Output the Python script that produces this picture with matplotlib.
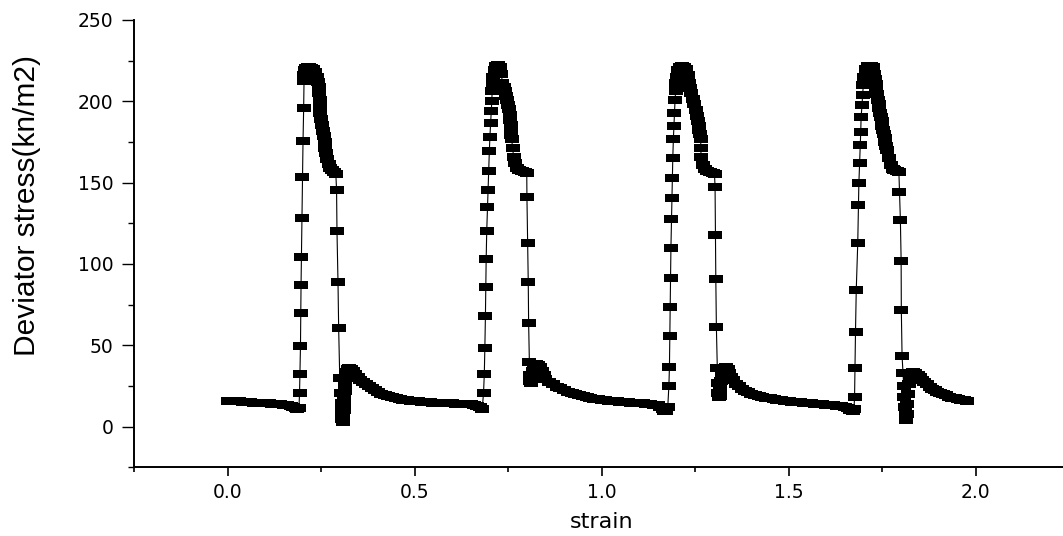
import numpy as np
import matplotlib
matplotlib.use("Agg")
import matplotlib.pyplot as plt
from matplotlib.ticker import MultipleLocator, FormatStrFormatter

# ---------------- data ----------------
strain_flat0 = [0.000, 0.010, 0.020, 0.030, 0.040, 0.050, 0.060, 0.070, 0.080, 0.090,
                0.100, 0.110, 0.120, 0.130, 0.140, 0.150, 0.160, 0.170, 0.176, 0.182,
                0.187, 0.191]
stress_flat0 = [16.0, 15.9, 15.7, 15.5, 15.3, 15.1, 14.9, 14.7, 14.6, 14.5,
                14.4, 14.3, 14.2, 14.0, 13.8, 13.6, 13.3, 13.0, 12.2, 11.4,
                10.8, 11.5]

strain_c1 = [0.1925, 0.1935, 0.1950, 0.1957, 0.1965, 0.1975, 0.1990, 0.2002, 0.2018, 0.2035, 0.2045,
             0.2055, 0.207, 0.210, 0.214, 0.219, 0.224, 0.229, 0.234, 0.238, 0.241, 0.2435, 0.2455,
             0.247, 0.2475, 0.248, 0.250, 0.2525, 0.255, 0.2575, 0.260, 0.2615, 0.263, 0.266, 0.270,
             0.275, 0.280, 0.285, 0.2895,
             0.2915, 0.2926, 0.2953, 0.2971, 0.300,
             0.303, 0.305, 0.306, 0.307, 0.308, 0.3095, 0.3105, 0.3115, 0.3125, 0.3135, 0.3145,
             0.316, 0.318, 0.321, 0.325, 0.330, 0.335, 0.341, 0.348, 0.355, 0.362, 0.370, 0.378,
             0.386, 0.394, 0.402, 0.410, 0.420, 0.430, 0.440, 0.450, 0.460, 0.470, 0.480, 0.490,
             0.500, 0.510, 0.520, 0.530, 0.540, 0.550, 0.560, 0.570, 0.580, 0.590, 0.600, 0.610,
             0.620, 0.630, 0.640, 0.650, 0.660, 0.668, 0.675, 0.681]
stress_c1 = [21.0, 32.4, 49.4, 69.7, 87.0, 104.0, 128.4, 153.2, 175.4, 195.6, 212.5,
             216.0, 219.0, 220.5, 221.0, 221.0, 220.5, 219.5, 218.0, 215.0, 212.0, 208.5, 205.0,
             201.0, 197.0, 193.0, 189.0, 185.5, 182.0, 178.5, 175.0, 171.5, 168.0, 164.5, 161.5,
             159.0, 157.5, 156.5, 155.5,
             145.4, 120.2, 89.0, 60.4, 30.0,
             20.5, 14.5, 9.5, 5.0, 3.0, 6.0, 10.0, 14.0, 18.0, 22.0, 26.0,
             30.0, 33.5, 35.5, 36.3, 35.5, 34.0, 32.5, 30.5, 29.0, 27.5, 26.0, 24.8,
             23.5, 22.3, 21.3, 20.4, 19.5, 18.8, 18.1, 17.5, 17.0, 16.6, 16.3, 16.0,
             15.8, 15.5, 15.3, 15.1, 14.9, 14.8, 14.7, 14.6, 14.5, 14.4, 14.3, 14.2,
             14.1, 14.0, 13.9, 13.7, 13.4, 12.8, 12.0, 11.0]

strain_c2 = [0.6845, 0.6865, 0.6880, 0.6895, 0.6905, 0.6915, 0.6930, 0.6950, 0.6965, 0.6980,
             0.7000, 0.7015, 0.7035, 0.7055,
             0.7065, 0.7075, 0.709, 0.711, 0.714, 0.719, 0.724, 0.728, 0.732, 0.735, 0.738,
             0.741, 0.744, 0.748, 0.750, 0.752, 0.754, 0.7555, 0.757, 0.758, 0.759, 0.760, 0.762,
             0.765, 0.769, 0.774, 0.780, 0.787, 0.794, 0.800,
             0.8005, 0.8025, 0.804, 0.805, 0.807,
             0.808, 0.810, 0.812, 0.814, 0.817, 0.820, 0.825, 0.830, 0.835, 0.840, 0.845, 0.850,
             0.860, 0.870, 0.880, 0.890, 0.900, 0.910, 0.920, 0.930, 0.940, 0.950, 0.960, 0.970,
             0.980, 0.990, 1.000, 1.010, 1.020, 1.030, 1.040, 1.050, 1.060, 1.070, 1.080, 1.090,
             1.100, 1.110, 1.120, 1.130, 1.140, 1.150, 1.157, 1.163, 1.168, 1.172, 1.177]
stress_c2 = [21.0, 32.4, 48.5, 68.2, 86.0, 103.0, 120.2, 134.7, 145.4, 157.3,
             169.5, 178.1, 186.4, 194.1,
             200.0, 206.0, 211.0, 215.0, 219.0, 221.5, 222.0, 221.0, 217.0, 211.0, 208.5,
             206.0, 203.5, 200.5, 197.5, 195.0, 191.5, 188.5, 185.5, 182.3, 179.5, 176.5, 171.0,
             166.0, 162.0, 159.0, 157.5, 157.0, 156.5, 156.0,
             141.0, 113.0, 89.0, 64.0, 40.0,
             32.0, 28.0, 27.0, 30.0, 34.0, 37.0, 38.5, 38.0, 36.5, 34.0, 31.5, 29.5,
             27.5, 26.0, 24.7, 23.5, 22.5, 21.5, 20.7, 20.0, 19.3, 18.7, 18.2, 17.7,
             17.3, 17.0, 16.7, 16.4, 16.1, 15.8, 15.6, 15.4, 15.2, 15.0, 14.8, 14.6,
             14.4, 14.3, 14.1, 13.9, 13.6, 13.1, 12.2, 10.8, 9.6, 9.5, 12.0]

strain_c3 = [1.1800, 1.1815, 1.1825, 1.1835, 1.1845, 1.1855, 1.1870, 1.1880, 1.1890, 1.1905,
             1.1920, 1.1935, 1.1950, 1.1965,
             1.198, 1.1995, 1.201, 1.204, 1.209, 1.215, 1.221, 1.226, 1.230, 1.2335, 1.237,
             1.240, 1.244, 1.248, 1.252, 1.2555, 1.258, 1.260, 1.2615, 1.263, 1.265, 1.2655,
             1.266, 1.270, 1.276, 1.283, 1.290, 1.297, 1.302,
             1.3035, 1.3045, 1.3055, 1.307,
             1.3095, 1.311, 1.3125, 1.314, 1.316, 1.318, 1.320, 1.323, 1.327, 1.332, 1.337,
             1.342, 1.347, 1.352, 1.360, 1.368, 1.376, 1.384, 1.392, 1.400, 1.410, 1.420,
             1.430, 1.440, 1.450, 1.460, 1.470, 1.480, 1.490, 1.500, 1.510, 1.520, 1.530,
             1.540, 1.550, 1.560, 1.570, 1.580, 1.590, 1.600, 1.610, 1.620, 1.630, 1.640,
             1.650, 1.658, 1.665, 1.671, 1.675]
stress_c3 = [25.0, 36.5, 56.0, 73.7, 91.2, 110.0, 127.4, 140.7, 153.0, 165.3,
             176.5, 184.7, 192.5, 200.7,
             206.0, 211.0, 215.0, 219.0, 221.0, 221.5, 221.3, 219.5, 216.0, 211.0, 208.0,
             205.0, 201.5, 198.0, 194.5, 191.0, 188.0, 185.0, 182.5, 180.0, 177.0, 171.0,
             166.0, 161.0, 158.5, 157.0, 156.5, 156.0, 155.0,
             147.4, 118.0, 91.0, 61.4,
             36.0, 27.0, 21.0, 18.0, 19.0, 23.0, 28.0, 32.0, 35.0, 36.5, 35.5,
             33.0, 30.5, 28.5, 26.5, 24.8, 23.3, 22.2, 21.2, 20.4, 19.6, 19.0,
             18.4, 17.9, 17.5, 17.1, 16.7, 16.3, 16.0, 15.7, 15.4, 15.1, 14.9,
             14.7, 14.5, 14.3, 14.1, 13.9, 13.7, 13.5, 13.3, 13.1, 12.9, 12.6,
             12.2, 11.5, 10.5, 9.8, 11.0]

strain_c4 = [1.6765, 1.6775, 1.6790, 1.6810, 1.6850, 1.6870, 1.6880, 1.6900, 1.6920, 1.6930,
             1.6940, 1.6965,
             1.698, 1.700, 1.703, 1.707, 1.713, 1.720, 1.726, 1.729, 1.731, 1.733, 1.735, 1.737,
             1.739, 1.741, 1.743, 1.745, 1.747, 1.749, 1.751, 1.753, 1.755, 1.757, 1.759, 1.761,
             1.763, 1.768, 1.773, 1.778, 1.783, 1.789, 1.795,
             1.7966, 1.7990, 1.8010, 1.8015, 1.8035,
             1.806, 1.808, 1.810, 1.8115, 1.813, 1.8145, 1.8165, 1.818, 1.820, 1.822, 1.825,
             1.829, 1.834, 1.839, 1.845, 1.851, 1.857, 1.863, 1.870, 1.877, 1.884, 1.891,
             1.898, 1.906, 1.914, 1.922, 1.930, 1.938, 1.946, 1.954, 1.962, 1.970, 1.977]
stress_c4 = [18.4, 35.9, 58.4, 84.0, 112.7, 136.2, 149.5, 161.8, 173.0, 181.2,
             190.4, 197.6,
             204.0, 210.0, 215.0, 219.5, 221.5, 221.5, 221.0, 217.0, 213.5, 210.5, 207.5, 204.5,
             201.0, 198.5, 196.0, 193.0, 190.5, 188.0, 185.0, 182.5, 180.0, 177.5, 175.0, 172.5,
             170.0, 165.0, 161.0, 158.5, 157.5, 157.0, 156.5,
             144.4, 127.0, 102.0, 72.0, 43.4,
             33.0, 25.0, 18.4, 12.0, 7.0, 4.0, 8.0, 14.0, 20.0, 26.0, 30.5,
             33.0, 33.5, 33.0, 32.0, 30.5, 29.0, 27.5, 26.0, 24.6, 23.4, 22.3,
             21.5, 20.7, 20.0, 19.2, 18.5, 17.9, 17.4, 17.0, 16.6, 16.2, 16.0]

x_ticks = [0.0, 0.5, 1.0, 1.5, 2.0]
y_ticks = [0, 50, 100, 150, 200, 250]
x_label = "strain"
y_label = "Deviator stress(kn/m2)"

strain = np.array(strain_flat0 + strain_c1 + strain_c2 + strain_c3 + strain_c4)
stress = np.array(stress_flat0 + stress_c1 + stress_c2 + stress_c3 + stress_c4)

# ---------------- figure ----------------
plt.rcParams['font.family'] = ['Liberation Sans', 'DejaVu Sans']

fig = plt.figure(figsize=(10.63, 5.36), dpi=100)
ax = fig.add_axes([0.1261, 0.128, 0.8796, 0.835])

rect_marker = [(-1, -0.5), (1, -0.5), (1, 0.5), (-1, 0.5)]
ax.plot(strain, stress, color='black', lw=0.8, marker=rect_marker,
        markersize=10.3, markerfacecolor='black', markeredgecolor='black',
        markeredgewidth=0.0, zorder=3)

ax.set_xlim(-0.25, 2.25)
ax.set_ylim(-25, 250)

ax.spines['top'].set_visible(False)
ax.spines['right'].set_visible(False)
for sp in ('left', 'bottom'):
    ax.spines[sp].set_linewidth(1.4)

ax.set_xticks(x_ticks)
ax.set_yticks(y_ticks)
ax.xaxis.set_major_formatter(FormatStrFormatter('%.1f'))
ax.xaxis.set_minor_locator(MultipleLocator(0.25))
ax.yaxis.set_minor_locator(MultipleLocator(25))

ax.tick_params(axis='x', which='major', direction='out', length=6.5, width=1.2,
               pad=5, labelsize=13.5)
ax.tick_params(axis='x', which='minor', direction='out', length=3.5, width=1.2)
ax.tick_params(axis='y', which='major', direction='out', length=9, width=1.0,
               pad=6, labelsize=13.5)
ax.tick_params(axis='y', which='minor', direction='out', length=4.5, width=1.0)
for lab in ax.get_xticklabels() + ax.get_yticklabels():
    lab.set_family(['DejaVu Sans'])

ax.set_xlabel(x_label, fontsize=16, family=['DejaVu Sans'])
ax.xaxis.set_label_coords(0.5, -0.122)
ax.xaxis.label.set_va('center')

ax.set_ylabel(y_label, fontsize=21.5, family=['Liberation Sans', 'DejaVu Sans'])
ax.yaxis.set_label_coords(-0.115, 0.586)
ax.yaxis.label.set_va('center')

fig.savefig('out.png', dpi=100)
